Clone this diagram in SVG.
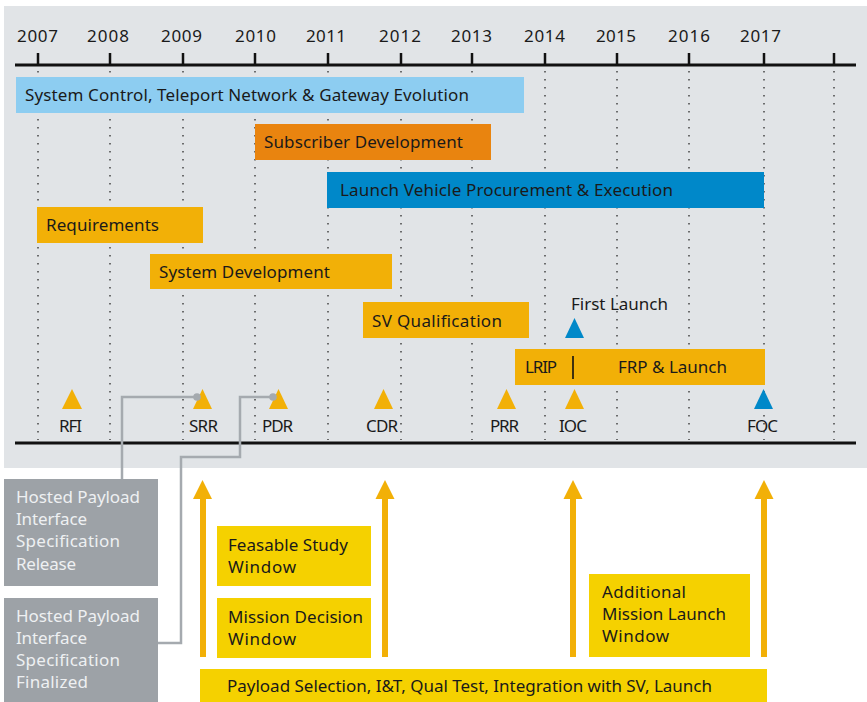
<svg xmlns="http://www.w3.org/2000/svg" width="867" height="702" viewBox="0 0 867 702">
<style>
text{font-family:"Noto Sans","Liberation Sans",sans-serif;font-size:17px;fill:#1a1a1a}
.yr{font-size:17px}
.lt{fill:#eef0f2}
.dot{stroke:#3a3a3a;stroke-width:1.4;stroke-dasharray:1.4 6.6;fill:none}
.tick{stroke:#111;stroke-width:2.5}
.axis{stroke:#111;stroke-width:3}
.amber{fill:#f2b007}
.blue{fill:#0088c9}
.yel{fill:#f5d100}
.gbox{fill:#9da2a7}
.conn{stroke:#a5aaaf;stroke-width:2.5;fill:none}
</style>
<rect x="0" y="0" width="867" height="702" fill="#ffffff"/>
<rect x="4" y="6" width="863" height="462" fill="#e1e4e7"/>
<g id="axis">
<line class="axis" x1="15" y1="65" x2="856" y2="65"/>
<g class="tick">
<line x1="38" y1="53" x2="38" y2="65"/><line x1="110" y1="53" x2="110" y2="65"/><line x1="183" y1="53" x2="183" y2="65"/><line x1="255" y1="53" x2="255" y2="65"/><line x1="328" y1="53" x2="328" y2="65"/><line x1="401" y1="53" x2="401" y2="65"/><line x1="472" y1="53" x2="472" y2="65"/><line x1="545" y1="53" x2="545" y2="65"/><line x1="617" y1="53" x2="617" y2="65"/><line x1="689" y1="53" x2="689" y2="65"/><line x1="764" y1="53" x2="764" y2="65"/><line x1="834" y1="53" x2="834" y2="65"/>
</g>
<g class="dot">
<line x1="38" y1="71" x2="38" y2="440"/><line x1="110" y1="71" x2="110" y2="440"/><line x1="183" y1="71" x2="183" y2="440"/><line x1="255" y1="71" x2="255" y2="440"/><line x1="328" y1="71" x2="328" y2="440"/><line x1="401" y1="71" x2="401" y2="440"/><line x1="472" y1="71" x2="472" y2="440"/><line x1="545" y1="71" x2="545" y2="440"/><line x1="617" y1="71" x2="617" y2="440"/><line x1="689" y1="71" x2="689" y2="440"/><line x1="764" y1="71" x2="764" y2="440"/><line x1="834" y1="71" x2="834" y2="440"/>
</g>
<text class="yr" x="17" y="42" textLength="41">2007</text>
<text class="yr" x="87" y="42" textLength="42">2008</text>
<text class="yr" x="161" y="42" textLength="41">2009</text>
<text class="yr" x="235" y="42" textLength="41">2010</text>
<text class="yr" x="306" y="42" textLength="40">2011</text>
<text class="yr" x="379" y="42" textLength="42">2012</text>
<text class="yr" x="451" y="42" textLength="41">2013</text>
<text class="yr" x="524" y="42" textLength="41">2014</text>
<text class="yr" x="596" y="42" textLength="40">2015</text>
<text class="yr" x="668" y="42" textLength="42">2016</text>
<text class="yr" x="740" y="42" textLength="41">2017</text>
<line class="axis" x1="15" y1="443" x2="856" y2="443"/>
</g>
<g id="bar-system-control">
<rect x="16" y="77" width="508" height="36" fill="#8dcdf1"/>
<text x="25" y="101" textLength="444">System Control, Teleport Network &amp; Gateway Evolution</text>
</g>
<g id="bar-subscriber">
<rect x="255" y="124" width="236" height="36" fill="#e9840f"/>
<text x="264" y="148" textLength="199">Subscriber Development</text>
</g>
<g id="bar-launch-vehicle">
<rect x="327" y="172" width="437" height="36" class="blue"/>
<text x="340" y="196" textLength="333">Launch Vehicle Procurement &amp; Execution</text>
</g>
<g id="bar-requirements">
<rect x="37" y="207" width="166" height="36" class="amber"/>
<text x="46" y="231" textLength="113">Requirements</text>
</g>
<g id="bar-system-development">
<rect x="150" y="254" width="242" height="35" class="amber"/>
<text x="159" y="278" textLength="171">System Development</text>
</g>
<g id="bar-sv-qualification">
<rect x="363" y="302" width="166" height="36" class="amber"/>
<text x="372" y="327" textLength="130">SV Qualification</text>
</g>
<g id="bar-lrip-frp">
<rect x="515" y="349" width="250" height="36" class="amber"/>
<line x1="573" y1="356" x2="573" y2="379" stroke="#111" stroke-width="1.6"/>
<text x="525" y="373" textLength="32">LRIP</text>
<text x="618" y="373" textLength="109">FRP &amp; Launch</text>
</g>
<g id="first-launch">
<polygon class="blue" points="565,338 584,338 574.5,318"/>
<text x="571" y="310" textLength="97">First Launch</text>
</g>
<g id="m-rfi"><polygon class="amber" points="62,409 82,409 72,389"/><text x="59" y="432" textLength="23">RFI</text></g>
<g id="m-srr"><polygon class="amber" points="193,409 212,409 202.5,389"/><text x="189" y="432" textLength="29">SRR</text></g>
<g id="m-pdr"><polygon class="amber" points="269,409 288,409 278.5,389"/><text x="262" y="432" textLength="31">PDR</text></g>
<g id="m-cdr"><polygon class="amber" points="374,409 393,409 383.5,389"/><text x="366" y="432" textLength="32">CDR</text></g>
<g id="m-prr"><polygon class="amber" points="497,409 516,409 506.5,389"/><text x="490" y="432" textLength="29">PRR</text></g>
<g id="m-ioc"><polygon class="amber" points="565,409 584,409 574.5,389"/><text x="559" y="432" textLength="28">IOC</text></g>
<g id="m-foc"><polygon class="blue" points="754,409 773,409 763.5,389"/><text x="747" y="432" textLength="31">FOC</text></g>
<g id="connectors">
<path class="conn" d="M122,479 V397 H197"/>
<circle cx="197" cy="397" r="3.8" fill="#a5aaaf"/>
<path class="conn" d="M158,643 H181 V457 H240 V397 H274"/>
<circle cx="273" cy="397" r="3.8" fill="#a5aaaf"/>
</g>
<g id="hpis-release">
<rect class="gbox" x="4" y="479" width="154" height="107"/>
<text class="lt" x="16" y="503" textLength="124">Hosted Payload</text>
<text class="lt" x="16" y="525" textLength="71">Interface</text>
<text class="lt" x="16" y="547" textLength="104">Specification</text>
<text class="lt" x="16" y="570" textLength="60">Release</text>
</g>
<g id="hpis-finalized">
<rect class="gbox" x="4" y="598" width="154" height="104"/>
<text class="lt" x="16" y="622" textLength="124">Hosted Payload</text>
<text class="lt" x="16" y="644" textLength="71">Interface</text>
<text class="lt" x="16" y="666" textLength="104">Specification</text>
<text class="lt" x="16" y="688" textLength="72">Finalized</text>
</g>
<g id="arrows">
<rect class="amber" x="200" y="498" width="6" height="159"/><polygon class="amber" points="193,499 212,499 202.5,480"/>
<rect class="amber" x="382" y="498" width="6" height="159"/><polygon class="amber" points="375.5,499 394.5,499 385,480"/>
<rect class="amber" x="570" y="498" width="6" height="159"/><polygon class="amber" points="563.5,499 582.5,499 573,480"/>
<rect class="amber" x="761" y="498" width="6" height="159"/><polygon class="amber" points="754.5,499 773.5,499 764,480"/>
</g>
<g id="feasable-study">
<rect class="yel" x="217" y="526" width="154" height="60"/>
<text x="228" y="551" textLength="120">Feasable Study</text>
<text x="228" y="573" textLength="68">Window</text>
</g>
<g id="mission-decision">
<rect class="yel" x="217" y="598" width="154" height="60"/>
<text x="228" y="623" textLength="135">Mission Decision</text>
<text x="228" y="645" textLength="68">Window</text>
</g>
<g id="additional-mission">
<rect class="yel" x="589" y="574" width="161" height="83"/>
<text x="602" y="598" textLength="84">Additional</text>
<text x="602" y="620" textLength="124">Mission Launch</text>
<text x="602" y="642" textLength="67">Window</text>
</g>
<g id="payload-selection">
<rect class="yel" x="200" y="669" width="567" height="33"/>
<text x="227" y="692" textLength="485">Payload Selection, I&amp;T, Qual Test, Integration with SV, Launch</text>
</g>
</svg>
